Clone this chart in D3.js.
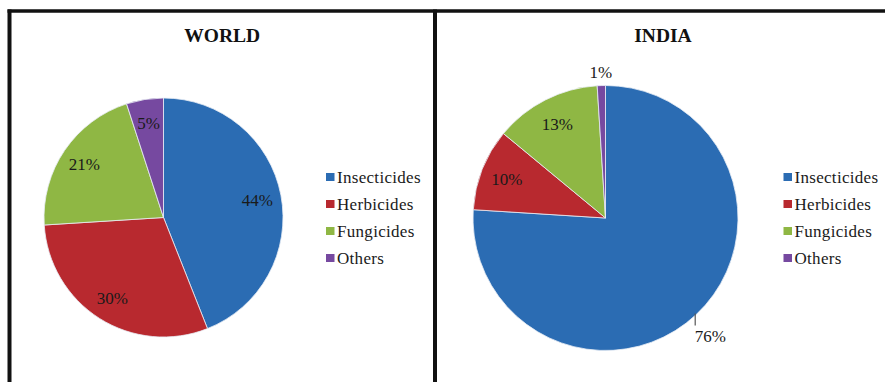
<!DOCTYPE html>
<html>
<head>
<meta charset="utf-8">
<script src="https://cdn.jsdelivr.net/npm/d3@7"></script>
<style>
  html, body { margin: 0; padding: 0; background: #fff; }
  svg { display: block; }
</style>
</head>
<body>
<svg id="chart" width="885" height="382"></svg>
<script>
// ---- data ----
const categories = ["Insecticides", "Herbicides", "Fungicides", "Others"];
const worldValues = [44, 30, 21, 5];
const indiaValues = [76, 10, 13, 1];
const panelTitles = ["WORLD", "INDIA"];
const sliceColors = ["#2b6cb3", "#b8292f", "#8fb744", "#7649a0"];

// ---- layout ----
const W = 885, H = 382;
const svg = d3.select("#chart");
const color = d3.scaleOrdinal().domain(categories).range(sliceColors);
const FONT = '"Liberation Serif"';

const panels = [
  { title: panelTitles[0], values: worldValues, x0: 9.5, x1: 435, cx: 163.5, cy: 217.5, r: 119.5, legendX: 326 },
  { title: panelTitles[1], values: indiaValues, x0: 435, x1: 891, cx: 605.5, cy: 218, r: 132.5, legendX: 783.5 }
];

// frame
const frame = svg.append("g").attr("stroke", "#111").attr("fill", "none");
frame.append("line").attr("x1", 7.5).attr("x2", W).attr("y1", 11).attr("y2", 11).attr("stroke-width", 3.5);
frame.append("line").attr("x1", 9.5).attr("x2", 9.5).attr("y1", 9.5).attr("y2", H).attr("stroke-width", 4);
frame.append("line").attr("x1", 435).attr("x2", 435).attr("y1", 9.5).attr("y2", H).attr("stroke-width", 4);

const pie = d3.pie().sort(null).value(d => d.value).startAngle(0).endAngle(2 * Math.PI);

function label(sel) {
  return sel.style("font-family", FONT).style("font-size", "17px")
    .attr("fill", "#1a1a1a");
}

panels.forEach(p => {
  const g = svg.append("g");
  const data = categories.map((c, i) => ({ cat: c, value: p.values[i] }));
  const arcs = pie(data);
  const arc = d3.arc().innerRadius(0).outerRadius(p.r);

  // title
  g.append("text")
    .attr("x", (p.x0 + p.x1) / 2)
    .attr("y", 42)
    .attr("text-anchor", "middle")
    .style("font-family", FONT)
    .style("font-weight", "bold")
    .style("font-size", "19.5px")
    .attr("fill", "#111")
    .text(p.title);

  const pg = g.append("g").attr("transform", `translate(${p.cx},${p.cy})`);
  pg.selectAll("path").data(arcs).join("path")
    .attr("d", arc)
    .attr("fill", d => color(d.data.cat))
    .attr("stroke", "#e8eef5")
    .attr("stroke-width", 0.8);

  // labels
  const inner = d3.arc().innerRadius(p.r * 0.8).outerRadius(p.r * 0.8);
  const outer = d3.arc().innerRadius(p.r * 1.1).outerRadius(p.r * 1.1);
  const edge = d3.arc().innerRadius(p.r).outerRadius(p.r);

  arcs.forEach(a => {
    const txt = a.data.value + "%";
    if (a.data.value < 3) {
      const [x, y] = outer.centroid(a);
      label(pg.append("text")).attr("x", x).attr("y", y).attr("dy", "0.35em")
        .attr("text-anchor", "middle").text(txt);
    } else if (a.data.value > 60) {
      const [x, y] = edge.centroid(a);
      pg.append("line").attr("x1", x - 1).attr("x2", x - 1).attr("y1", y - 1).attr("y2", y + 11)
        .attr("stroke", "#555").attr("stroke-width", 1.2);
      label(pg.append("text")).attr("x", x - 1.5).attr("y", y + 27)
        .attr("text-anchor", "start").text(txt);
    } else {
      const [x, y] = inner.centroid(a);
      label(pg.append("text")).attr("x", x).attr("y", y).attr("dy", "0.35em")
        .attr("text-anchor", "middle").text(txt);
    }
  });

  // legend
  const lg = g.append("g").attr("transform", `translate(${p.legendX},173)`);
  const rows = lg.selectAll("g").data(categories).join("g")
    .attr("transform", (d, i) => `translate(0,${i * 27})`);
  rows.append("rect").attr("x", 0).attr("y", 0).attr("width", 8.5).attr("height", 8)
    .attr("fill", d => color(d));
  label(rows.append("text")).attr("x", 11).attr("y", 9.5)
    .style("letter-spacing", "0.3px")
    .text(d => d);
});
</script>
</body>
</html>
